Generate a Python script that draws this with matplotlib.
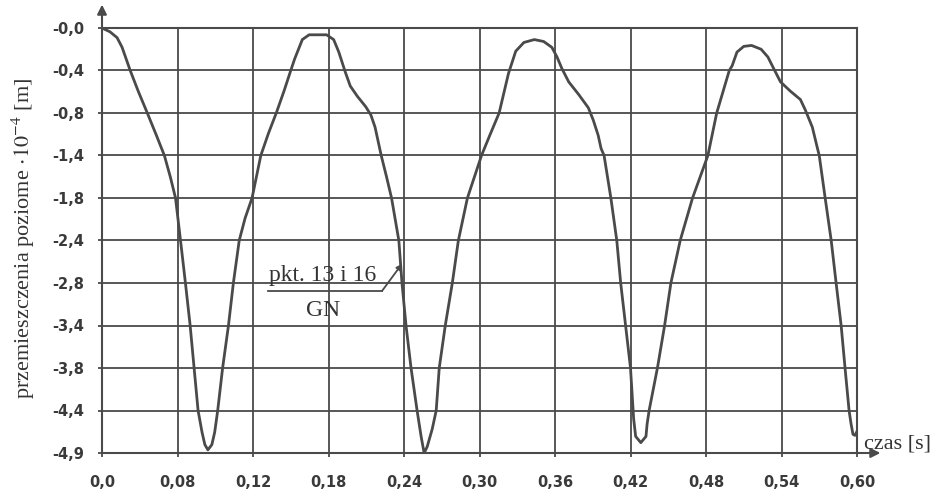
import numpy as np
import matplotlib
matplotlib.use("Agg")
import matplotlib.pyplot as plt
from matplotlib.lines import Line2D

plt.rcParams["mathtext.fontset"] = "stix"

# osie (nierównomierne podziałki jak na oryginale)
x_ticks = [0.0, 0.08, 0.12, 0.18, 0.24, 0.30, 0.36, 0.42, 0.48, 0.54, 0.60]
x_labels = ["0,0", "0,08", "0,12", "0,18", "0,24", "0,30", "0,36", "0,42", "0,48", "0,54", "0,60"]
y_ticks = [0.0, -0.4, -0.8, -1.4, -1.8, -2.4, -2.8, -3.4, -3.8, -4.4, -4.9]
y_labels = ["-0,0", "-0,4", "-0,8", "-1,4", "-1,8", "-2,4", "-2,8", "-3,4", "-3,8", "-4,4", "-4,9"]

# przebieg: czas [s], przemieszczenie [1e-4 m]
t = [0.0, 0.0085, 0.016, 0.0213, 0.0299, 0.0384, 0.048, 0.0576, 0.0661, 0.0725,
     0.0779, 0.0816, 0.0842, 0.0867, 0.0888, 0.0909, 0.093, 0.0945, 0.0961, 0.0982,
     0.0997, 0.1013, 0.1039, 0.107, 0.1096, 0.1127, 0.1158, 0.1195, 0.1262, 0.1323,
     0.1385, 0.1446, 0.15, 0.1531, 0.1592, 0.1646, 0.1785, 0.1841, 0.1882, 0.1932,
     0.1973, 0.203, 0.2096, 0.2137, 0.217, 0.2219, 0.226, 0.2301, 0.2359, 0.2384,
     0.2416, 0.2456, 0.2504, 0.2536, 0.256, 0.2584, 0.2624, 0.2656, 0.268, 0.2728,
     0.2784, 0.2832, 0.2904, 0.3016, 0.3082, 0.3156, 0.323, 0.3288, 0.3353, 0.3436,
     0.351, 0.3575, 0.3616, 0.3655, 0.3709, 0.3787, 0.3865, 0.3904, 0.3943, 0.3966,
     0.399, 0.4044, 0.4091, 0.4122, 0.4161, 0.42, 0.4225, 0.4241, 0.4282, 0.4323,
     0.4332, 0.4348, 0.4414, 0.4471, 0.4521, 0.4595, 0.4693, 0.4815, 0.4885, 0.4985,
     0.5008, 0.5046, 0.51, 0.5162, 0.5238, 0.5292, 0.5338, 0.5392, 0.5471, 0.555,
     0.5589, 0.5645, 0.5684, 0.57, 0.5747, 0.5795, 0.5834, 0.5874, 0.5905, 0.5937,
     0.5953, 0.5968, 0.5984, 0.60]
u = [0.0, -0.036, -0.091, -0.182, -0.4, -0.595, -0.8, -1.114, -1.4, -1.605,
     -1.8, -2.4, -2.8, -3.4, -3.8, -4.4, -4.656, -4.802, -4.863, -4.802,
     -4.656, -4.4, -3.8, -3.4, -2.8, -2.4, -2.086, -1.8, -1.4, -1.086,
     -0.8, -0.595, -0.4, -0.291, -0.109, -0.064, -0.064, -0.109, -0.227, -0.41,
     -0.546, -0.644, -0.741, -0.829, -1.0, -1.4, -1.595, -1.8, -2.4, -2.8,
     -3.4, -3.8, -4.4, -4.705, -4.9, -4.827, -4.62, -4.4, -3.8, -3.4,
     -2.8, -2.4, -1.8, -1.4, -1.114, -0.8, -0.429, -0.218, -0.136, -0.109,
     -0.127, -0.182, -0.273, -0.382, -0.507, -0.624, -0.751, -0.9, -1.114, -1.3,
     -1.4, -1.8, -2.4, -2.8, -3.4, -3.8, -4.498, -4.705, -4.778, -4.705,
     -4.559, -4.4, -3.8, -3.4, -2.8, -2.4, -1.8, -1.4, -0.8, -0.4,
     -0.355, -0.227, -0.173, -0.164, -0.2, -0.273, -0.382, -0.507, -0.595, -0.673,
     -0.771, -1.0, -1.286, -1.4, -1.8, -2.4, -2.8, -3.4, -3.8, -4.4,
     -4.559, -4.68, -4.693, -4.644]

kol = "#4a4a4a"
idx = np.arange(len(x_ticks))


def fx(v):
    return np.interp(v, x_ticks, idx)


def fx_inv(p):
    return np.interp(p, idx, x_ticks)


def fy(v):
    return np.interp(v, y_ticks[::-1], idx)


def fy_inv(p):
    return np.interp(p, idx, y_ticks[::-1])


fig = plt.figure(figsize=(9.43, 4.97), dpi=100)
ax = fig.add_axes([102 / 943, 1 - 453 / 497, 755 / 943, 425 / 497])
ax.set_xscale("function", functions=(fx, fx_inv))
ax.set_yscale("function", functions=(fy, fy_inv))
ax.set_xlim(0, 0.6)
ax.set_ylim(-4.9, 0)

ax.plot(t, u, color=kol, lw=2.0, zorder=3, solid_joinstyle="round")

ax.set_xticks(x_ticks)
ax.set_xticklabels(x_labels)
ax.set_yticks(y_ticks)
ax.set_yticklabels(y_labels)
ax.minorticks_off()
ax.grid(True, color=kol, lw=1.3)
for s in ax.spines.values():
    s.set_color(kol)
    s.set_linewidth(1.5)
ax.tick_params(axis="both", color=kol, length=3, width=1.3, labelcolor="#3a3a3a",
               labelsize=10.5)
ax.tick_params(axis="x", pad=13)
ax.tick_params(axis="y", pad=10)
for lab in ax.get_xticklabels() + ax.get_yticklabels():
    lab.set_fontweight("bold")

# strzałki osi
ax.annotate("", xy=(0, 1.055), xytext=(0, 1.0), xycoords="axes fraction",
            arrowprops=dict(arrowstyle="-|>", color=kol, lw=1.5, shrinkA=0, shrinkB=0,
                            mutation_scale=14), annotation_clip=False)
ax.annotate("", xy=(1.031, 0), xytext=(1.0, 0), xycoords="axes fraction",
            arrowprops=dict(arrowstyle="-|>", color=kol, lw=1.5, shrinkA=0, shrinkB=0,
                            mutation_scale=14), annotation_clip=False)

serif = "Liberation Serif"
fig.text(23 / 943, 1 - 238 / 497, "przemieszczenia poziome $\\cdot 10^{-4}$ [m]",
         rotation=90, ha="center", va="center", family=serif, fontsize=16, color="#333")
fig.text(898 / 943, 1 - 444 / 497, "czas [s]", ha="center", va="center",
         family=serif, fontsize=16, color="#333")

# opis krzywej
fig.text(323 / 943, 1 - 275 / 497, "pkt. 13 i 16", ha="center", va="center",
         family=serif, fontsize=17, color="#333")
fig.text(323 / 943, 1 - 310 / 497, "GN", ha="center", va="center",
         family=serif, fontsize=17, color="#333")
fig.add_artist(Line2D([268 / 943, 382 / 943], [1 - 291 / 497, 1 - 291 / 497],
                      transform=fig.transFigure, color=kol, lw=1.3))
ax.annotate("", xy=(0.2384, -2.62), xytext=(382 / 943, 1 - 291 / 497),
            textcoords="figure fraction",
            arrowprops=dict(arrowstyle="-|>", color=kol, lw=1.3, shrinkA=0, shrinkB=0,
                            mutation_scale=8))

fig.savefig("out.png", dpi=100)
